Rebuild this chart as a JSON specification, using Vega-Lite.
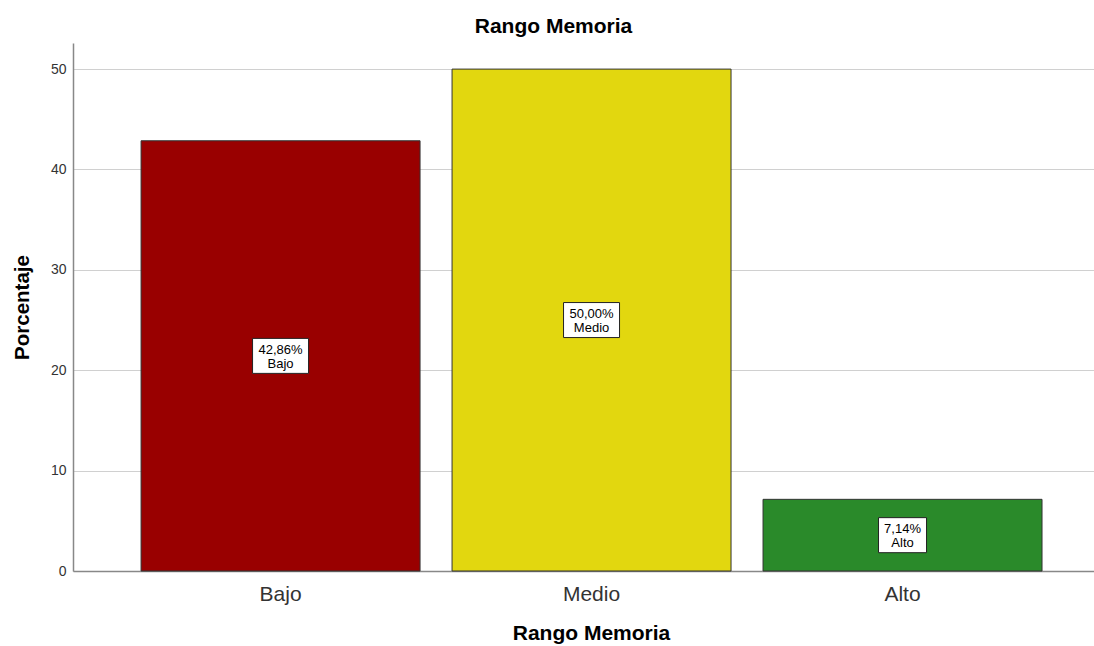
{
  "$schema": "https://vega.github.io/schema/vega-lite/v6.json",
  "width": 1021,
  "height": 528,
  "autosize": {"type": "none"},
  "padding": {"left": 73, "top": 43, "right": 0, "bottom": 75},
  "background": "white",
  "config": {
    "font": "Liberation Sans",
    "view": {"stroke": null}
  },
  "title": {
    "text": "Rango Memoria",
    "fontSize": 21,
    "fontWeight": "bold",
    "color": "#000000",
    "font": "Liberation Sans",
    "dx": -30,
    "offset": 6
  },
  "data": {
    "values": [
      {"Rango": "Bajo", "Porcentaje": 42.86},
      {"Rango": "Medio", "Porcentaje": 50.0},
      {"Rango": "Alto", "Porcentaje": 7.14}
    ]
  },
  "transform": [
    {"calculate": "[replace(format(datum.Porcentaje, '.2f'), '.', ',') + '%', datum.Rango]", "as": "etiqueta"},
    {"calculate": "datum.Porcentaje / 2", "as": "medio"}
  ],
  "encoding": {
    "x": {
      "field": "Rango",
      "type": "nominal",
      "sort": ["Bajo", "Medio", "Alto"],
      "scale": {"paddingInner": 0.1029, "paddingOuter": 0.193, "align": 0.567},
      "axis": {
        "title": "Rango Memoria",
        "titleFontSize": 21,
        "titleFontWeight": "bold",
        "titleColor": "#000000",
        "titleX": 518,
        "titlePadding": 18,
        "labelAngle": 0,
        "labelFontSize": 21,
        "labelColor": "#333333",
        "labelPadding": 12,
        "ticks": false,
        "domainColor": "#888888",
        "domainWidth": 1.5,
        "grid": false
      }
    }
  },
  "layer": [
    {
      "mark": {"type": "bar", "stroke": "#333333", "strokeWidth": 1},
      "encoding": {
        "y": {
          "field": "Porcentaje",
          "type": "quantitative",
          "scale": {"domain": [0, 52.6], "nice": false},
          "axis": {
            "title": "Porcentaje",
            "titleFontSize": 20.5,
            "titleFontWeight": "bold",
            "titleColor": "#000000",
            "titlePadding": 18,
            "values": [0, 10, 20, 30, 40, 50],
            "labelFontSize": 14,
            "labelColor": "#333333",
            "labelPadding": 7,
            "ticks": false,
            "domainColor": "#888888",
            "domainWidth": 1.5,
            "gridColor": "#d0d0d0",
            "gridWidth": 1.2
          }
        },
        "color": {
          "field": "Rango",
          "type": "nominal",
          "scale": {"domain": ["Bajo", "Medio", "Alto"], "range": ["#990000", "#E2D70F", "#2A8A2A"]},
          "legend": null
        }
      }
    },
    {
      "mark": {"type": "point", "filled": true, "fill": "white", "stroke": "#222222", "strokeWidth": 1, "opacity": 1},
      "encoding": {
        "y": {"field": "medio", "type": "quantitative"},
        "shape": {
          "condition": {"test": "datum.Rango === 'Alto'", "value": "M-1,-0.73L1,-0.73L1,0.73L-1,0.73Z"},
          "value": "M-1,-0.625L1,-0.625L1,0.625L-1,0.625Z"
        },
        "size": {
          "condition": {"test": "datum.Rango === 'Alto'", "value": 2304},
          "value": 3136
        }
      }
    },
    {
      "mark": {"type": "text", "fontSize": 13, "lineHeight": 14, "dy": -6, "color": "#000000", "baseline": "middle", "align": "center"},
      "encoding": {
        "y": {"field": "medio", "type": "quantitative"},
        "text": {"field": "etiqueta"}
      }
    }
  ]
}
